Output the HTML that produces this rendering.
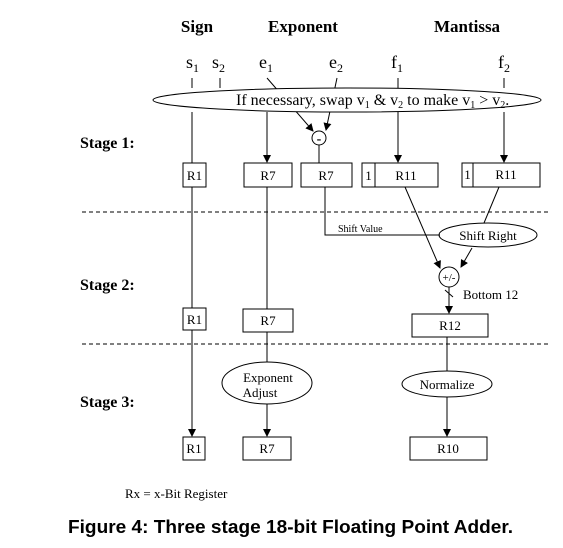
<!DOCTYPE html>
<html><head><meta charset="utf-8"><style>
html,body{margin:0;padding:0;background:#fff;width:563px;height:548px;overflow:hidden}
svg{display:block}
text{font-family:"Liberation Serif",serif;fill:#000}
text.cap{font-family:"Liberation Sans",sans-serif}
</style></head><body>
<svg width="563" height="548" viewBox="0 0 563 548" xmlns="http://www.w3.org/2000/svg">
<defs><marker id="a" markerWidth="8" markerHeight="10" refX="7" refY="4" orient="auto" markerUnits="userSpaceOnUse"><path d="M0,0 L8,4 L0,8 z" fill="#000"/></marker></defs>
<g font-weight="bold" font-size="17">
<text x="197" y="32" text-anchor="middle">Sign</text>
<text x="303" y="32" text-anchor="middle">Exponent</text>
<text x="467" y="32" text-anchor="middle">Mantissa</text>
<text x="80" y="148" font-size="16">Stage 1:</text>
<text x="80" y="290" font-size="16">Stage 2:</text>
<text x="80" y="407" font-size="16">Stage 3:</text>
</g>
<g font-size="18">
<text x="186" y="68">s<tspan font-size="12" dy="4">1</tspan></text>
<text x="212" y="68">s<tspan font-size="12" dy="4">2</tspan></text>
<text x="259" y="68">e<tspan font-size="12" dy="4">1</tspan></text>
<text x="329" y="68">e<tspan font-size="12" dy="4">2</tspan></text>
<text x="391" y="68">f<tspan font-size="12" dy="4">1</tspan></text>
<text x="498" y="68">f<tspan font-size="12" dy="4">2</tspan></text>
</g>
<g stroke="#000" stroke-width="1" fill="none">
<line x1="192" y1="78" x2="192" y2="88"/>
<line x1="220" y1="78" x2="220" y2="88"/>
<line x1="267" y1="78" x2="313" y2="131" marker-end="url(#a)"/>
<line x1="337" y1="78" x2="326" y2="130" marker-end="url(#a)"/>
<line x1="398" y1="78" x2="398" y2="88"/>
<line x1="504" y1="78" x2="504" y2="88"/>
<ellipse cx="347" cy="100" rx="194" ry="12" fill="#fff"/>
<line x1="192" y1="112" x2="192" y2="163"/>
<line x1="267" y1="112" x2="267" y2="162" marker-end="url(#a)"/>
<line x1="398" y1="112" x2="398" y2="162" marker-end="url(#a)"/>
<line x1="504" y1="112" x2="504" y2="162" marker-end="url(#a)"/>
<circle cx="319" cy="138" r="7" fill="#fff"/>
<line x1="319" y1="145" x2="319" y2="163"/>
<rect x="183" y="163" width="23" height="24"/>
<rect x="244" y="163" width="48" height="24"/>
<rect x="301" y="163" width="51" height="24"/>
<rect x="362" y="163" width="76" height="24"/><line x1="375" y1="163" x2="375" y2="187"/>
<rect x="462" y="163" width="78" height="24"/><line x1="473" y1="163" x2="473" y2="187"/>
<line x1="82" y1="212" x2="550" y2="212" stroke-dasharray="4,3"/>
<line x1="82" y1="344" x2="550" y2="344" stroke-dasharray="4,3"/>
<polyline points="325,187 325,235 440,235"/>
<ellipse cx="488" cy="235" rx="49" ry="12"/>
<line x1="499" y1="187" x2="484" y2="223"/>
<line x1="405" y1="187" x2="440" y2="268" marker-end="url(#a)"/>
<line x1="472" y1="248" x2="461" y2="267" marker-end="url(#a)"/>
<circle cx="449" cy="277" r="10"/>
<line x1="449" y1="287" x2="449" y2="313" marker-end="url(#a)"/>
<line x1="445" y1="290" x2="453" y2="297"/>
<rect x="412" y="314" width="76" height="23"/>
<line x1="192" y1="187" x2="192" y2="308"/>
<line x1="267" y1="187" x2="267" y2="309"/>
<rect x="183" y="308" width="23" height="22"/>
<rect x="243" y="309" width="50" height="23"/>
<line x1="192" y1="330" x2="192" y2="436" marker-end="url(#a)"/>
<line x1="267" y1="332" x2="267" y2="362"/>
<ellipse cx="267" cy="383" rx="45" ry="21"/>
<line x1="267" y1="404" x2="267" y2="436" marker-end="url(#a)"/>
<line x1="447" y1="337" x2="447" y2="371"/>
<ellipse cx="447" cy="384" rx="45" ry="13"/>
<line x1="447" y1="397" x2="447" y2="436" marker-end="url(#a)"/>
<rect x="183" y="437" width="22" height="23"/>
<rect x="243" y="437" width="48" height="23"/>
<rect x="410" y="437" width="77" height="23"/>
</g>
<text x="319" y="143" font-size="14" font-weight="bold" text-anchor="middle">-</text>
<g font-size="13">
<text x="236" y="105" font-size="16">If necessary, swap v<tspan font-size="10" dy="3">1</tspan><tspan dy="-3"> &amp; v</tspan><tspan font-size="10" dy="3">2</tspan><tspan dy="-3"> to make v</tspan><tspan font-size="10" dy="3">1</tspan><tspan dy="-3"> &gt; v</tspan><tspan font-size="10" dy="3">2</tspan><tspan dy="-3">.</tspan></text>
<text x="194.5" y="180" text-anchor="middle">R1</text>
<text x="268" y="180" text-anchor="middle">R7</text>
<text x="326" y="180" text-anchor="middle">R7</text>
<text x="368.5" y="180" text-anchor="middle">1</text>
<text x="406" y="180" text-anchor="middle">R11</text>
<text x="467.5" y="179" text-anchor="middle">1</text>
<text x="506" y="179" text-anchor="middle">R11</text>
<text x="338" y="232" font-size="10">Shift Value</text>
<text x="488" y="240" text-anchor="middle">Shift Right</text>
<text x="449" y="281" font-size="11" text-anchor="middle">+/-</text>
<text x="463" y="299">Bottom 12</text>
<text x="450" y="330" text-anchor="middle">R12</text>
<text x="194.5" y="324" text-anchor="middle">R1</text>
<text x="268" y="325" text-anchor="middle">R7</text>
<text x="268" y="382" text-anchor="middle">Exponent</text>
<text x="260" y="397" text-anchor="middle">Adjust</text>
<text x="447" y="389" text-anchor="middle">Normalize</text>
<text x="194" y="453" text-anchor="middle">R1</text>
<text x="267" y="453" text-anchor="middle">R7</text>
<text x="448" y="453" text-anchor="middle">R10</text>
<text x="125" y="498">Rx = x-Bit Register</text>
</g>
<text class="cap" x="68" y="533" font-weight="bold" font-size="18.5" textLength="445" lengthAdjust="spacingAndGlyphs">Figure 4:  Three stage 18-bit Floating Point Adder.</text>
</svg>
</body></html>
